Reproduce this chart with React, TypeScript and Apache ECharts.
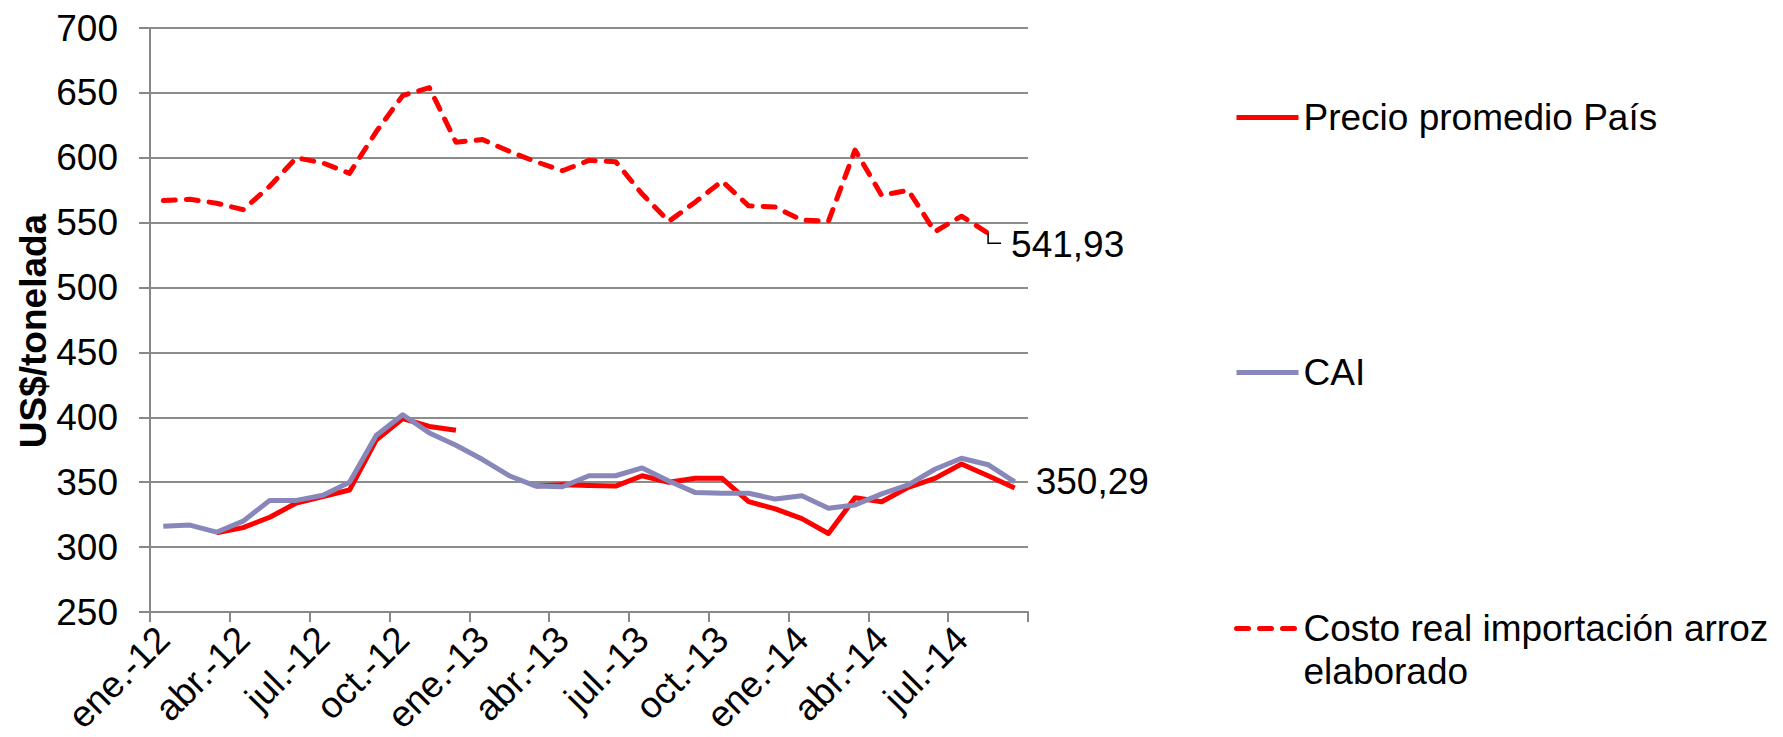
import React, { useEffect, useRef } from "react";
import * as echarts from "echarts";

// Categories (monthly, ene.-12 … sep.-14)
const months = [
  "ene.-12", "feb.-12", "mar.-12", "abr.-12", "may.-12", "jun.-12",
  "jul.-12", "ago.-12", "sep.-12", "oct.-12", "nov.-12", "dic.-12",
  "ene.-13", "feb.-13", "mar.-13", "abr.-13", "may.-13", "jun.-13",
  "jul.-13", "ago.-13", "sep.-13", "oct.-13", "nov.-13", "dic.-13",
  "ene.-14", "feb.-14", "mar.-14", "abr.-14", "may.-14", "jun.-14",
  "jul.-14", "ago.-14", "sep.-14",
];

// Series values (US$/tonelada)
const precioPais = [
  null, null, 311, 315, 323, 334, 339, 344, 382.5, 399, 393, 390,
  null, null, 347, 348, 347.5, 347, 355, 350, 353, 353, 335, 329.5,
  322, 310.5, 338, 335, 346, 353, 364, 355, 345.5,
];
const cai = [
  316, 317, 311.5, 320, 336, 336, 340, 350, 386, 402, 388, 378.5,
  367.5, 355, 347, 346.5, 355, 355, 361, 351, 342, 341.5, 341.5, 337,
  339.5, 330, 332.5, 341, 348, 360, 368.5, 363.5, 350.29,
];
const costoImportacion = [
  567, 568, 565, 560, 578, 600, 596, 588, 620, 648, 654, 612,
  614, 605, 597, 590, 598, 597, 572, 551, 566, 582, 563, 562,
  552, 551, 606, 571, 575, 543, 555, 541.93, null,
];

const seriesNames = [
  "Precio promedio País",
  "CAI",
  "Costo real importación arroz elaborado",
];
// legend text; the leading empty line keeps the key centred on the first line
const legendLabels = [
  "Precio promedio País",
  "CAI",
  "\nCosto real importación arroz\nelaborado",
];

const yMin = 250;
const yMax = 700;
const yStep = 50;

const FONT = "'Liberation Sans', Arial, sans-serif";
const RED = "#ff0000";
const PURPLE = "#8787b9";

function fmt(v: number) {
  return v.toFixed(2).replace(".", ",");
}

function lastIndex(arr: (number | null)[]) {
  for (let i = arr.length - 1; i >= 0; i--) if (arr[i] != null) return i;
  return -1;
}

export default function App() {
  const ref = useRef<HTMLDivElement>(null);

  useEffect(() => {
    document.body.style.margin = "0";
    const chart = echarts.init(ref.current!, null, { renderer: "svg" });

    const caiLast = lastIndex(cai);
    const costoLast = lastIndex(costoImportacion);

    const labelText = {
      fontSize: 37,
      fontFamily: FONT,
      color: "#000",
    };

    const caiData = cai.map((v, i) =>
      i === caiLast
        ? {
            value: v,
            symbol: "circle",
            symbolSize: 0,
            label: {
              show: true,
              position: "right",
              distance: 21,
              formatter: (p: any) => fmt(p.value),
              ...labelText,
            },
          }
        : v
    );
    const costoData = costoImportacion.map((v, i) =>
      i === costoLast
        ? {
            value: v,
            symbol: "circle",
            symbolSize: 0,
            label: {
              show: true,
              position: "right",
              distance: 23,
              offset: [0, 11],
              formatter: (p: any) => fmt(p.value),
              ...labelText,
            },
          }
        : v
    );

    const legendTops = [96, 351, 564];

    chart.setOption({
      animation: false,
      backgroundColor: "#ffffff",
      textStyle: { fontFamily: FONT },
      grid: {
        left: 150,
        right: 755,
        top: 28,
        bottom: 125,
        containLabel: false,
        outerBoundsMode: "none",
      },
      legend: seriesNames.map((name, k) => ({
        data: [name],
        orient: "vertical",
        left: 1234,
        top: legendTops[k],
        padding: 0,
        itemWidth: 62,
        itemHeight: 14,
        formatter: () => legendLabels[k],
        itemStyle: { opacity: 0, borderWidth: 0 },
        lineStyle: { width: 5 },
        textStyle: {
          fontSize: 37,
          fontFamily: FONT,
          color: "#000",
          lineHeight: 43,
        },
        selectedMode: false,
      })),
      xAxis: {
        type: "category",
        data: months,
        boundaryGap: true,
        axisLine: { show: true, lineStyle: { color: "#888888", width: 2 } },
        axisTick: { show: true, interval: 2, length: 10, lineStyle: { color: "#888888", width: 2 } },
        axisLabel: {
          interval: 2,
          rotate: 45,
          margin: 21,
          fontSize: 37,
          fontFamily: FONT,
          color: "#000",
        },
        splitLine: { show: false },
      },
      yAxis: {
        type: "value",
        min: yMin,
        max: yMax,
        interval: yStep,
        name: "US$/tonelada",
        nameLocation: "middle",
        nameRotate: 90,
        nameGap: 98,
        nameTextStyle: {
          fontSize: 37,
          fontWeight: "bold",
          fontFamily: FONT,
          color: "#000",
          padding: [0, 22, 0, 0],
        },
        axisLine: { show: true, lineStyle: { color: "#888888", width: 2 } },
        axisTick: { show: true, length: 11, lineStyle: { color: "#888888", width: 2 } },
        axisLabel: { margin: 32, fontSize: 37, fontFamily: FONT, color: "#000" },
        splitLine: { show: true, lineStyle: { color: "#8c8c8c", width: 2 } },
      },
      series: [
        {
          name: seriesNames[0],
          type: "line",
          data: precioPais,
          symbol: "none",
          connectNulls: false,
          lineStyle: { color: RED, width: 5, join: "round" },
          itemStyle: { color: RED },
          z: 2,
        },
        {
          name: seriesNames[1],
          type: "line",
          data: caiData,
          symbol: "none",
          lineStyle: { color: PURPLE, width: 5, join: "round" },
          itemStyle: { color: PURPLE },
          z: 3,
        },
        {
          name: seriesNames[2],
          type: "line",
          data: costoData,
          symbol: "none",
          lineStyle: { color: RED, width: 5, type: [12, 11], cap: "round", join: "round" },
          itemStyle: { color: RED },
          z: 4,
        },
      ],
    });

    // small leader line from the last "costo" point to its label
    const pt = chart.convertToPixel({ gridIndex: 0 }, [costoLast, costoImportacion[costoLast] as number]);
    if (pt) {
      const [px, py] = pt as number[];
      chart.setOption({
        graphic: [
          {
            type: "polyline",
            shape: { points: [[px, py], [px, py + 10], [px + 13, py + 10]] },
            style: { stroke: "#000", lineWidth: 1.5, fill: null },
            z: 10,
            silent: true,
          },
        ],
      });
    }

    return () => chart.dispose();
  }, []);

  return <div ref={ref} style={{ width: 1783, height: 737 }} />;
}
